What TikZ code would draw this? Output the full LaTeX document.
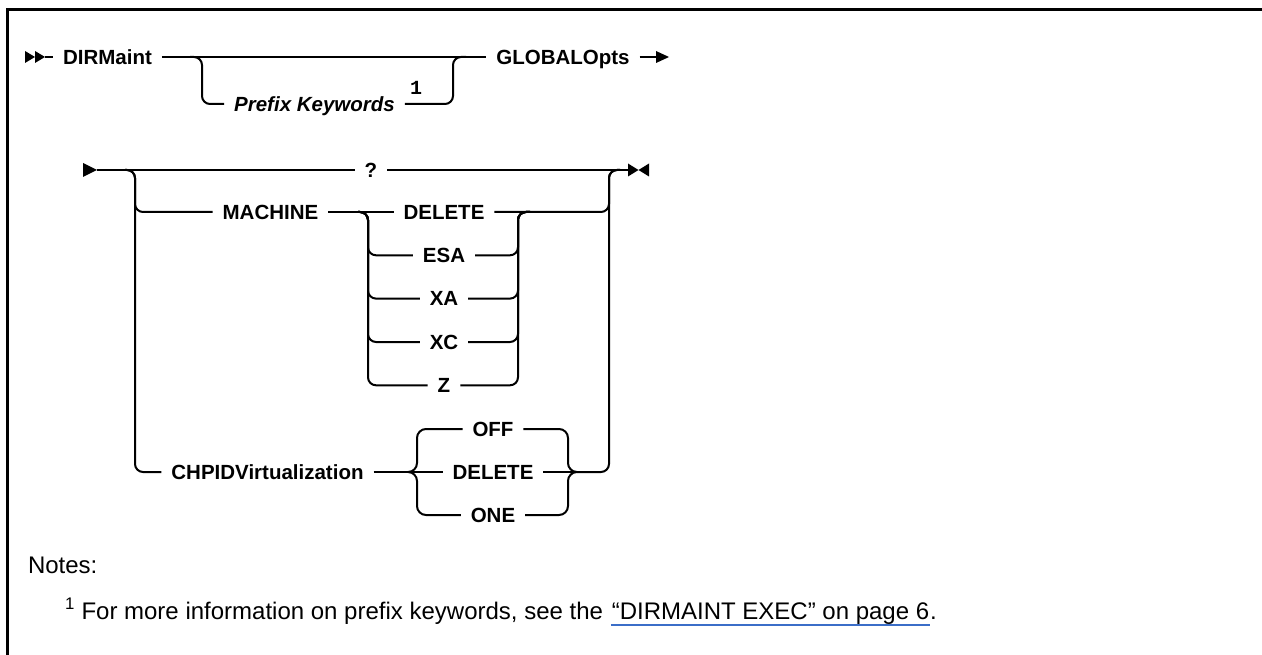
\documentclass[tikz,border=0pt]{standalone}
\usepackage{fontspec}
\setmainfont{Liberation Sans}
\newfontfamily\monofont{Liberation Mono}
\definecolor{linkblue}{RGB}{59,110,200}
\begin{document}
\begin{tikzpicture}[x=1pt,y=-1pt,line width=2pt,
  kw/.style={font=\fontsize{20.5}{24}\selectfont\bfseries, inner xsep=9pt, inner ysep=0pt, text height=14.7pt, text depth=0pt},
  kwit/.style={kw, font=\fontsize{20.5}{24}\selectfont\bfseries\itshape},
  rr/.style={rounded corners=8pt},
  txt/.style={font=\fontsize{24}{28}\selectfont, inner sep=0pt}]
\useasboundingbox (0,0) rectangle (1262,655);
% frame
\draw[line width=3pt] (7.5,655) -- (7.5,10) -- (1262,10);

% ---------- row 1 ----------
\coordinate (s1) at (45,57);
\fill (25,51) -- (35,57) -- (25,63) -- cycle;
\fill (35,51) -- (45,57) -- (35,63) -- cycle;
\node[kw] (dirm) at (107.5,57) {DIRMaint};
\node[kw] (glob) at (563,57) {GLOBALOpts};
\node[kwit] (pk) at (314.5,104) {Prefix Keywords};
\node[font=\fontsize{20}{24}\selectfont\monofont\bfseries, inner sep=0pt] (n1) at (416,88) {1};
\coordinate (e1) at (669,57);
\draw (s1) -- (dirm.west);
\draw (dirm.east) -- (glob.west);
\draw (glob.east) -- (658,57);
\fill (656,51) -- (e1) -- (656,63) -- cycle;
\draw[rr] (190,57) -| (202,104) -- (pk.west);
\draw[rr] (pk.east) -| (453,57) -- (466,57);

% ---------- row 2 ----------
\coordinate (s2) at (97,170);
\fill (83,163) -- (s2) -- (83,177) -- cycle;
\node[kw] (q) at (371,170) {?};
\coordinate (e2) at (628,170);
\draw (s2) -- (q.west);
\draw (q.east) -- (e2);
\fill (628,163.5) -- (638.5,170) -- (628,176.5) -- cycle;
\fill (649,163.5) -- (638.5,170) -- (649,176.5) -- cycle;

% MACHINE branch
\node[kw] (mach) at (270.5,212) {MACHINE};
\node[kw] (del1) at (444,212) {DELETE};
\node[kw] (esa) at (444,255.3) {ESA};
\node[kw] (xa) at (444,298.6) {XA};
\node[kw] (xc) at (444,342) {XC};
\node[kw] (z) at (444,385.3) {Z};
\draw[rr] (125,170) -| (135,212) -- (mach.west);
\draw (mach.east) -- (del1.west);
\foreach \n/\y in {esa/255.3,xa/298.6,xc/342,z/385.3}{
  \draw[rr] (358,212) -| (368,\y) -- (\n.west);
  \draw[rr] (\n.east) -| (518,212) -- (530,212);
}
\draw[rr] (del1.east) -| (609,170) -- (620,170);

% CHPIDVirtualization branch
\node[kw] (chpid) at (267.5,472) {CHPIDVirtualization};
\node[kw] (off) at (493,429) {OFF};
\node[kw] (del2) at (493,472) {DELETE};
\node[kw] (one) at (493,515) {ONE};
\coordinate (bl) at (408,472);
\coordinate (br) at (577,472);
\draw[rr] (125,170) -| (135,472) -- (chpid.west);
\draw (chpid.east) -- (bl);
\draw (bl) -- (del2.west);
\draw (bl) to[out=0,in=-90] (417,463) -- (417,438) to[out=90,in=180] (426,429) -- (off.west);
\draw (bl) to[out=0,in=90] (417,481) -- (417,506) to[out=-90,in=180] (426,515) -- (one.west);
\draw (del2.east) -- (br);
\draw (off.east) -- (559,429) to[out=0,in=90] (568,438) -- (568,463) to[out=-90,in=180] (br);
\draw (one.east) -- (559,515) to[out=0,in=-90] (568,506) -- (568,481) to[out=90,in=180] (br);
\draw[rr] (br) -| (609,170) -- (620,170);

% ---------- notes ----------
\node[txt, anchor=base west] (notes) at (27,573) {Notes:};
\node[txt, anchor=base west] (fn) at (64,619) {\textsuperscript{1} For more information on prefix keywords, see the};
\node[txt, anchor=base west] (link) at ([xshift=6.7pt]fn.base east) {“DIRMAINT EXEC” on page 6};
\node[txt, anchor=base west] (dot) at ([xshift=-1pt]link.base east) {.};
\draw[linkblue, line width=1.2pt] ([yshift=-6pt]link.base west) -- ([yshift=-6pt]link.base east);
\end{tikzpicture}
\end{document}
